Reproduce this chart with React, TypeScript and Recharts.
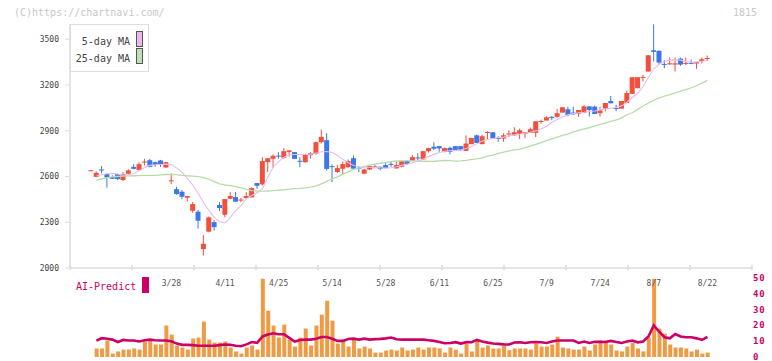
import React from 'react';
import { ComposedChart, Bar, Line, XAxis, YAxis } from 'recharts';

// ---- data ----
const DATES = [
  '3/6','3/7','3/8','3/11','3/12','3/13','3/14','3/15','3/18','3/19','3/21','3/22','3/25','3/26','3/27','3/28','3/29',
  '4/1','4/2','4/3','4/4','4/5','4/8','4/9','4/10','4/11','4/12','4/15','4/16','4/17','4/18','4/19','4/22','4/23','4/24','4/25','4/26','4/30',
  '5/1','5/2','5/7','5/8','5/9','5/10','5/13','5/14','5/15','5/16','5/17','5/20','5/21','5/22','5/23','5/24','5/27','5/28','5/29','5/30','5/31',
  '6/3','6/4','6/5','6/6','6/7','6/10','6/11','6/12','6/13','6/14','6/17','6/18','6/19','6/20','6/21','6/24','6/25','6/26','6/27','6/28',
  '7/1','7/2','7/3','7/4','7/5','7/8','7/9','7/10','7/11','7/12','7/16','7/17','7/18','7/19','7/22','7/23','7/24','7/25','7/26','7/29','7/30','7/31',
  '8/1','8/2','8/5','8/6','8/7','8/8','8/9','8/13','8/14','8/15','8/16','8/19','8/20','8/21','8/22',
];

const OPEN = [
  2639, 2598, 2646, 2616, 2596, 2616, 2577, 2618, 2663, 2642,
  2695, 2707, 2694, 2705, 2659, 2572, 2517, 2500, 2461, 2375,
  2369, 2124, 2238, 2301, 2413, 2349, 2454, 2465, 2445, 2458,
  2463, 2557, 2548, 2694, 2716, 2737, 2723, 2760, 2760, 2703,
  2694, 2740, 2749, 2825, 2838, 2668, 2629, 2651, 2661, 2720,
  2657, 2618, 2646, 2655, 2664, 2675, 2683, 2653, 2664, 2703,
  2703, 2725, 2712, 2766, 2795, 2799, 2762, 2788, 2799, 2799,
  2768, 2812, 2870, 2812, 2888, 2890, 2853, 2849, 2879, 2870,
  2881, 2879, 2886, 2886, 2960, 2967, 2991, 2991, 3019, 3041,
  3019, 3012, 3019, 3060, 3058, 3015, 3045, 3095, 3049, 3045,
  3082, 3142, 3179, 3248, 3288, 3428, 3424, 3338, 3338, 3334,
  3373, 3338, 3345, 3341, 3358, 3373,
];
const HIGH = [
  2641, 2635, 2668, 2618, 2609, 2618, 2629, 2648, 2681, 2694,
  2716, 2716, 2698, 2709, 2696, 2620, 2533, 2511, 2472, 2432,
  2380, 2216, 2338, 2314, 2432, 2452, 2498, 2498, 2460, 2498,
  2528, 2557, 2727, 2720, 2744, 2760, 2786, 2771, 2760, 2727,
  2749, 2760, 2829, 2908, 2884, 2679, 2677, 2698, 2712, 2738,
  2666, 2651, 2672, 2677, 2664, 2688, 2698, 2697, 2707, 2703,
  2740, 2753, 2766, 2786, 2825, 2799, 2790, 2795, 2799, 2799,
  2870, 2853, 2875, 2875, 2897, 2890, 2864, 2884, 2903, 2923,
  2914, 2890, 2921, 2962, 2973, 2995, 2995, 3043, 3054, 3058,
  3058, 3036, 3067, 3060, 3065, 3058, 3082, 3128, 3071, 3095,
  3163, 3251, 3251, 3267, 3395, 3598, 3428, 3363, 3380, 3380,
  3380, 3380, 3367, 3349, 3380, 3393,
];
const LOW = [
  2639, 2594, 2620, 2526, 2583, 2577, 2570, 2614, 2648, 2640,
  2672, 2659, 2663, 2663, 2657, 2550, 2480, 2452, 2435, 2362,
  2258, 2081, 2234, 2245, 2373, 2332, 2452, 2435, 2432, 2454,
  2463, 2520, 2541, 2629, 2655, 2716, 2716, 2731, 2716, 2661,
  2690, 2716, 2742, 2816, 2639, 2563, 2624, 2616, 2657, 2646,
  2629, 2618, 2642, 2655, 2640, 2655, 2664, 2653, 2660, 2675,
  2703, 2707, 2708, 2757, 2773, 2762, 2758, 2745, 2768, 2768,
  2768, 2812, 2820, 2812, 2846, 2849, 2827, 2827, 2859, 2866,
  2846, 2853, 2886, 2858, 2947, 2967, 2969, 2986, 3019, 2995,
  3004, 2991, 3015, 2993, 3010, 2993, 3028, 3080, 3028, 3045,
  3082, 3142, 3179, 3224, 3288, 3354, 3332, 3310, 3332, 3288,
  3325, 3330, 3336, 3306, 3341, 3358,
];
const CLOSE = [
  2641, 2624, 2642, 2592, 2585, 2583, 2616, 2640, 2650, 2681,
  2698, 2663, 2675, 2681, 2694, 2575, 2485, 2467, 2472, 2419,
  2310, 2159, 2332, 2268, 2393, 2452, 2472, 2435, 2449, 2472,
  2524, 2539, 2701, 2720, 2736, 2733, 2766, 2771, 2716, 2699,
  2744, 2753, 2825, 2860, 2650, 2664, 2655, 2681, 2701, 2651,
  2653, 2646, 2668, 2666, 2651, 2655, 2679, 2675, 2701, 2681,
  2727, 2721, 2766, 2786, 2782, 2784, 2786, 2762, 2773, 2773,
  2816, 2853, 2820, 2864, 2892, 2849, 2849, 2870, 2882, 2890,
  2903, 2890, 2910, 2962, 2964, 2988, 2983, 3015, 3054, 3004,
  3008, 3036, 3060, 3036, 3010, 3034, 3082, 3080, 3045, 3095,
  3147, 3251, 3251, 3253, 3395, 3417, 3347, 3334, 3342, 3342,
  3334, 3345, 3341, 3349, 3369, 3377,
];

const MA5 = [
  null, 2603, 2611, 2618, 2620, 2616, 2609, 2611, 2620, 2638,
  2659, 2673, 2677, 2679, 2681, 2677, 2655, 2627, 2587, 2544,
  2489, 2428, 2376, 2332, 2301, 2295, 2332, 2376, 2410, 2455,
  2476, 2493, 2520, 2596, 2662, 2698, 2727, 2742, 2744, 2744,
  2744, 2747, 2753, 2762, 2764, 2758, 2738, 2712, 2690, 2672,
  2664, 2661, 2661, 2659, 2657, 2655, 2657, 2664, 2673, 2682,
  2690, 2701, 2714, 2731, 2745, 2758, 2766, 2769, 2771, 2775,
  2784, 2797, 2814, 2832, 2843, 2849, 2854, 2858, 2867, 2873,
  2877, 2884, 2890, 2899, 2912, 2930, 2956, 2974, 2991, 3004,
  3013, 3017, 3021, 3026, 3030, 3037, 3043, 3048, 3052, 3063,
  3087, 3118, 3146, 3190, 3249, 3306, 3336, 3354, 3363, 3365,
  3363, 3354, 3350, 3352, 3356, 3361,
];
const MA25 = [
  null, 2576, 2585, 2592, 2597, 2600, 2602, 2604, 2605, 2606,
  2607, 2607, 2608, 2610, 2613, 2614, 2612, 2608, 2605, 2603,
  2599, 2593, 2582, 2566, 2552, 2545, 2540, 2533, 2525, 2515,
  2508, 2505, 2504, 2505, 2507, 2510, 2513, 2517, 2520, 2522,
  2525, 2530, 2538, 2552, 2568, 2585, 2598, 2616, 2632, 2647,
  2655, 2665, 2675, 2681, 2687, 2692, 2698, 2703, 2703, 2703,
  2702, 2701, 2700, 2699, 2700, 2703, 2705, 2704, 2701, 2702,
  2706, 2712, 2716, 2722, 2733, 2740, 2752, 2760, 2768, 2775,
  2780, 2790, 2800, 2810, 2822, 2835, 2847, 2858, 2870, 2880,
  2892, 2902, 2912, 2921, 2930, 2942, 2952, 2962, 2972, 2985,
  3005, 3018, 3040, 3062, 3082, 3100, 3115, 3127, 3137, 3148,
  3160, 3170, 3182, 3195, 3212, 3230,
];

const VOLUME = [
  null, 5.4, 5.4, 10.4, 2.2, 3.5, 4.7, 4.7, 5.4, 4.7,
  9.8, 10.4, 7.9, 7.9, 19.9, 14.2, 7.3, 6.0, 4.7, 11.7,
  12.3, 22.4, 11.0, 9.1, 9.1, 9.8, 6.0, 3.5, 2.2, 6.0,
  7.3, 4.7, 49.5, 29.3, 19.9, 12.3, 20.5, 11.0, 6.6, 12.3,
  18.0, 7.3, 19.9, 26.8, 35.6, 23.0, 8.5, 11.0, 6.6, 11.0,
  5.4, 6.6, 5.4, 2.8, 2.8, 4.1, 4.7, 4.1, 6.0, 4.1,
  4.7, 6.0, 4.7, 6.0, 6.0, 5.4, 2.8, 6.0, 4.7, 2.2,
  8.5, 3.5, 10.4, 6.0, 7.3, 5.4, 5.4, 7.3, 4.3, 5.4,
  5.4, 5.4, 4.7, 8.5, 6.6, 6.6, 7.9, 12.9, 6.0, 5.4,
  4.7, 4.7, 6.6, 4.1, 7.9, 10.4, 10.4, 7.9, 4.1, 3.5,
  6.6, 9.1, 5.4, 3.5, 12.3, 49.5, 18.0, 14.8, 7.9, 6.0,
  6.0, 5.4, 3.5, 4.7, 2.2, 2.8,
];
const AI_PREDICT = [
  null, 10.4, 11.9, 11.6, 11.0, 9.5, 10.8, 10.4, 10.4, 9.8,
  10.6, 11.0, 10.6, 10.4, 10.4, 10.0, 8.5, 7.7, 7.7, 7.5,
  7.1, 7.1, 7.1, 7.1, 7.5, 7.9, 7.7, 7.1, 6.8, 8.0,
  9.5, 9.0, 13.0, 14.2, 15.0, 14.4, 14.4, 12.1, 9.8, 10.8,
  11.0, 11.0, 11.5, 12.7, 12.7, 11.5, 10.2, 10.2, 11.4, 11.6,
  11.0, 11.6, 11.0, 11.3, 11.5, 11.8, 12.3, 11.2, 11.0, 11.0,
  11.0, 11.0, 11.0, 10.6, 10.2, 9.5, 8.7, 8.9, 9.4, 8.5,
  9.4, 9.3, 10.8, 9.8, 9.1, 8.5, 8.3, 8.0, 7.9, 9.2,
  9.3, 8.9, 9.3, 9.5, 9.3, 8.9, 9.8, 10.4, 10.4, 10.4,
  10.4, 8.9, 9.8, 8.9, 9.6, 9.6, 9.5, 10.2, 9.5, 8.9,
  9.8, 10.4, 9.3, 9.8, 13.0, 20.0, 16.0, 12.5, 11.8, 14.5,
  13.0, 12.5, 12.5, 11.8, 10.8, 12.8,
];

const PRICE_TICKS = [2000, 2300, 2600, 2900, 3200, 3500];
const AI_TICKS = [0, 10, 20, 30, 40, 50];
const LABEL_DATES = ['3/28', '4/11', '4/25', '5/14', '5/28', '6/11', '6/25', '7/9', '7/24', '8/7', '8/22'];

// ---- styling / layout ----
const MONO = '"DejaVu Sans Mono", "Liberation Mono", monospace';
const RED = '#f0503c';
const BLUE = '#3b78e7';
const PINK = '#e8baf0';
const GREEN = '#b6dca8';
const ORANGE = '#f09a44';
const CRIMSON = '#cc0066';
const AXIS = '#dddddd';
const X_MIN = -3.92;
const X_MAX = 123.32;
const GRID_TICKS = Array.from({ length: 12 }, (_, k) => X_MIN + (k * (X_MAX - X_MIN)) / 11);
const LABEL_IDX = LABEL_DATES.map((d) => DATES.indexOf(d));

const ROWS = DATES.map((date, i) => ({
  i,
  date,
  open: OPEN[i],
  high: HIGH[i],
  low: LOW[i],
  close: CLOSE[i],
  range: [LOW[i], HIGH[i]],
  ma5: MA5[i],
  ma25: MA25[i],
  vol: VOLUME[i],
  ai: AI_PREDICT[i],
}));

const Candle = (props: any) => {
  const { x, y, width, height, payload } = props;
  if (!payload || payload.high == null || x == null || y == null) return null;
  const top = Math.min(y, y + height);
  const bot = Math.max(y, y + height);
  const { open, close, high, low } = payload;
  const span = high - low;
  const py = (v: number) => (span > 0 ? top + ((high - v) / span) * (bot - top) : top);
  const up = close >= open;
  const color = up ? RED : BLUE;
  const cx = x + width / 2;
  const bTop = py(Math.max(open, close));
  const bBot = py(Math.min(open, close));
  const bh = Math.max(1, bBot - bTop);
  return (
    <g>
      <line x1={cx} x2={cx} y1={top} y2={Math.max(bot, top + 1)} stroke={color} strokeWidth={1} />
      <rect x={x} y={bTop} width={width} height={bh} fill={color} />
    </g>
  );
};

const XTick = (props: any) => {
  const { x, y, payload } = props;
  const v = payload?.value;
  const li = LABEL_IDX.indexOf(v);
  if (li >= 0) {
    return (
      <text x={x} y={y + 18} textAnchor="middle" fontSize={8} fontFamily={MONO} fill="#555">
        {LABEL_DATES[li]}
      </text>
    );
  }
  return <line x1={x} x2={x} y1={y - 3} y2={y + 2} stroke={AXIS} strokeWidth={1.5} />;
};

const AiTick = (props: any) => {
  const { x, y, payload } = props;
  return (
    <text x={x} y={y + 3} textAnchor="start" fontSize={9} fontWeight="bold" letterSpacing={0.8} fontFamily={MONO} fill={CRIMSON}>
      {payload?.value}
    </text>
  );
};

export default function App() {
  return (
    <div style={{ position: 'absolute', left: 0, top: 0, width: 772, height: 361, background: '#fff', overflow: 'hidden' }}>
      <div style={{ position: 'absolute', left: 0, top: 0 }}>
        <ComposedChart width={772} height={361} data={ROWS} margin={{ top: 278, right: 0, bottom: 4, left: 70 }}>
          <XAxis dataKey="i" type="number" domain={[X_MIN, X_MAX]} allowDataOverflow hide />
          <YAxis
            orientation="right"
            type="number"
            domain={[0, 50]}
            allowDataOverflow
            ticks={AI_TICKS}
            interval={0}
            width={20}
            axisLine={false}
            tickLine={false}
            tickSize={0}
            tickMargin={1}
            tick={<AiTick />}
          />
          <Bar dataKey="vol" fill={ORANGE} barSize={4} isAnimationActive={false} />
          <Line dataKey="ai" stroke={CRIMSON} strokeWidth={2.6} dot={false} isAnimationActive={false} />
        </ComposedChart>
      </div>
      <div style={{ position: 'absolute', left: 0, top: 0 }}>
        <ComposedChart width={772} height={361} data={ROWS} margin={{ top: 24, right: 20, bottom: 63, left: 0 }}>
          <XAxis
            dataKey="i"
            type="number"
            domain={[X_MIN, X_MAX]}
            allowDataOverflow
            ticks={[...GRID_TICKS, ...LABEL_IDX]}
            interval={0}
            tick={<XTick />}
            tickLine={false}
            tickSize={0}
            tickMargin={0}
            axisLine={{ stroke: AXIS, strokeWidth: 1.5 }}
            height={30}
          />
          <YAxis
            type="number"
            domain={[2000, 3600]}
            allowDataOverflow
            ticks={PRICE_TICKS}
            interval={0}
            width={70}
            tickSize={5}
            tickMargin={6}
            tick={{ fontSize: 8, fontFamily: MONO, fill: '#444' }}
            tickLine={{ stroke: AXIS }}
            axisLine={{ stroke: AXIS, strokeWidth: 1.5 }}
          />
          <Line dataKey="ma25" stroke={GREEN} strokeWidth={1.3} dot={false} isAnimationActive={false} />
          <Line dataKey="ma5" stroke={PINK} strokeWidth={1.1} dot={false} isAnimationActive={false} />
          <Bar dataKey="range" shape={<Candle />} barSize={5} isAnimationActive={false} />
        </ComposedChart>
      </div>
      <svg width={772} height={361} style={{ position: 'absolute', left: 0, top: 0, pointerEvents: 'none' }}>
        <text x={14} y={16} fontSize={10} fontFamily={MONO} fill="#c8c8c8">(C)https://chartnavi.com/</text>
        <text x={757} y={16} fontSize={10} fontFamily={MONO} fill="#c8c8c8" textAnchor="end">1815</text>
        <rect x={70.5} y={24.5} width={78} height={47} fill="#fff" stroke={AXIS} />
        <text x={130} y={45} fontSize={10} fontFamily={MONO} fill="#444" textAnchor="end">5-day MA</text>
        <text x={130} y={61.5} fontSize={10} fontFamily={MONO} fill="#444" textAnchor="end">25-day MA</text>
        <rect x={136.5} y={31.5} width={6} height={15} fill="#ecb8ec" stroke="#555" />
        <rect x={136.5} y={48.5} width={6} height={15} fill="#bde0b4" stroke="#555" />
        <text x={76} y={290} fontSize={10} fontFamily={MONO} fill={CRIMSON}>AI-Predict</text>
        <rect x={142} y={277} width={7} height={16} fill={CRIMSON} />
      </svg>
    </div>
  );
}
